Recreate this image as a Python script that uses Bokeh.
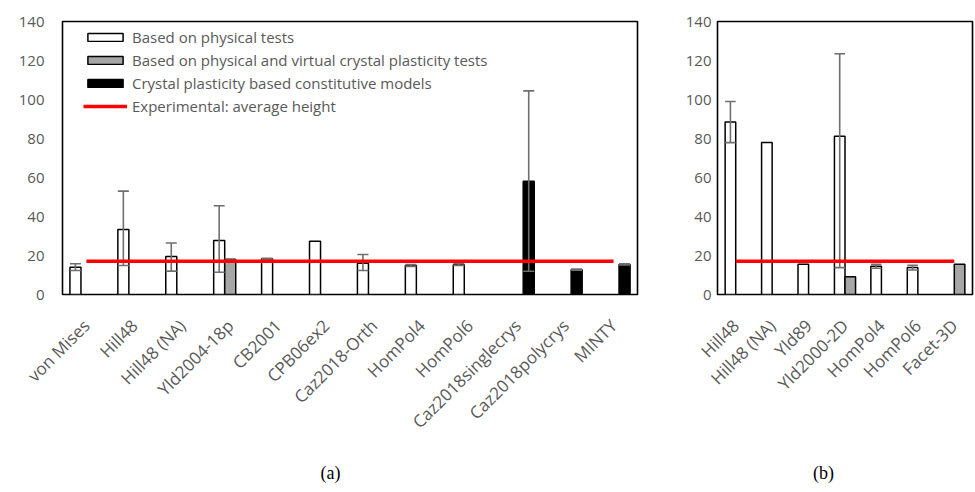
import math
from bokeh.plotting import figure
from bokeh.layouts import row, column
from bokeh.models import (ColumnDataSource, FactorRange, Range1d, FixedTicker,
                          Legend, LegendItem, Label)
from bokeh.transform import dodge
from bokeh.embed import file_html
from bokeh.resources import INLINE

# ---------------- data: panel (a) ----------------
cats_a = ["von Mises", "Hill48", "Hill48 (NA)", "Yld2004-18p", "CB2001", "CPB06ex2",
          "Caz2018-Orth", "HomPol4", "HomPol6", "Caz2018singlecrys",
          "Caz2018polycrys", "MINTY"]
phys_a = [14.0, 33.3, 19.5, 27.7, 18.3, 27.3, 16.0, 14.9, 15.3, None, None, None]
phys_a_lo = [12.3, 14.9, 12.0, 11.4, 18.0, None, 12.3, 14.4, 14.9, None, None, None]
phys_a_hi = [15.8, 53.0, 26.4, 45.5, 18.6, None, 20.5, 15.4, 15.8, None, None, None]
virt_a = [None, None, None, 17.9, None, None, None, None, None, None, None, None]
virt_a_lo = [None, None, None, 17.6, None, None, None, None, None, None, None, None]
virt_a_hi = [None, None, None, 18.2, None, None, None, None, None, None, None, None]
cp_a = [None, None, None, None, None, None, None, None, None, 58.1, 12.7, 15.4]
cp_a_lo = [None, None, None, None, None, None, None, None, None, 11.9, 12.4, 15.1]
cp_a_hi = [None, None, None, None, None, None, None, None, None, 104.4, 13.0, 15.7]
exp_a = [17.0] * len(cats_a)

# ---------------- data: panel (b) ----------------
cats_b = ["Hill48", "Hill48 (NA)", "Yld89", "Yld2000-2D", "HomPol4", "HomPol6", "Facet-3D"]
phys_b = [88.4, 77.9, 15.5, 81.1, 14.5, 13.8, None]
phys_b_lo = [77.9, None, None, 13.8, 13.5, 12.6, None]
phys_b_hi = [99.0, None, None, 123.5, 15.5, 15.0, None]
virt_b = [None, None, None, 9.1, None, None, 15.5]
exp_b = [17.0] * len(cats_b)

y_ticks = [0, 20, 40, 60, 80, 100, 120, 140]
legend_labels = ["Based on physical tests",
                 "Based on physical and virtual crystal plasticity tests",
                 "Crystal plasticity based constitutive models",
                 "Experimental: average height"]
captions = ["(a)", "(b)"]

GRAY_TXT = "#595959"
FONT = "Open Sans"
ERR_COL = "#6f6f6f"


def sub(cats, vals, lo=None, hi=None):
    d = {"cat": [], "val": [], "lo": [], "hi": []}
    for i, c in enumerate(cats):
        if vals[i] is None:
            continue
        d["cat"].append(c)
        d["val"].append(vals[i])
        d["lo"].append(lo[i] if lo is not None and lo[i] is not None else float("nan"))
        d["hi"].append(hi[i] if hi is not None and hi[i] is not None else float("nan"))
    return ColumnDataSource(d)


def make_fig(cats, width, height, mb_left, mb_right, mb_top, mb_bottom, ystand):
    p = figure(x_range=FactorRange(factors=cats), y_range=Range1d(0, 140),
               width=width, height=height, output_backend="svg",
               toolbar_location=None, min_border_left=mb_left,
               min_border_right=mb_right, min_border_top=mb_top,
               min_border_bottom=mb_bottom)
    p.xgrid.visible = False
    p.ygrid.visible = False
    p.outline_line_color = "black"
    p.outline_line_width = 1.6
    p.yaxis.ticker = FixedTicker(ticks=y_ticks)
    for ax in (p.xaxis, p.yaxis):
        ax.axis_line_color = None
        ax.major_tick_line_color = None
        ax.minor_tick_line_color = None
        ax.major_tick_out = 0
        ax.major_label_text_color = GRAY_TXT
        ax.major_label_text_font = FONT
    p.yaxis.major_label_text_font_size = "15px"
    p.xaxis.major_label_text_font_size = "17px"
    p.yaxis.major_label_standoff = ystand
    p.xaxis.major_label_orientation = math.pi / 4
    p.xaxis.major_label_standoff = 28
    return p


def bars(p, src, off, w, color):
    return p.vbar(x=dodge("cat", off, range=p.x_range), top="val", bottom=0, width=w,
                  source=src, fill_color=color, line_color="black", line_width=1.5)


def errs(p, src, off, w):
    p.segment(x0=dodge("cat", off, range=p.x_range), y0="lo",
              x1=dodge("cat", off, range=p.x_range), y1="hi",
              source=src, line_color=ERR_COL, line_width=1.6)
    for key in ("lo", "hi"):
        p.segment(x0=dodge("cat", off - w / 2, range=p.x_range), y0=key,
                  x1=dodge("cat", off + w / 2, range=p.x_range), y1=key,
                  source=src, line_color=ERR_COL, line_width=1.6)


def caption_fig(text, width, cx):
    c = figure(width=width, height=36, x_range=Range1d(0, 1), y_range=Range1d(0, 1),
               x_axis_type=None, y_axis_type=None, output_backend="svg",
               toolbar_location=None, min_border=0)
    c.outline_line_color = None
    c.add_layout(Label(x=cx, y=12, x_units="screen", y_units="screen", text=text,
                       text_align="center", text_baseline="middle",
                       text_font="Liberation Serif", text_font_size="18px",
                       text_color="black"))
    return c


# ---------------- panel (a) ----------------
pa = make_fig(cats_a, 680, 448, 62, 43, 21, 154, 18)
W_A = 0.23
s_pa = sub(cats_a, phys_a, phys_a_lo, phys_a_hi)
s_va = sub(cats_a, virt_a, virt_a_lo, virt_a_hi)
s_ca = sub(cats_a, cp_a, cp_a_lo, cp_a_hi)
r1 = bars(pa, s_pa, -W_A, W_A, "white")
r2 = bars(pa, s_va, 0.0, W_A, "#a6a6a6")
r3 = bars(pa, s_ca, W_A, W_A, "black")
errs(pa, s_pa, -W_A, W_A)
errs(pa, s_va, 0.0, W_A)
errs(pa, s_ca, W_A, W_A)
r4 = pa.line(x=cats_a, y=exp_a, line_color="#ff0000", line_width=3.5)

legend = Legend(items=[LegendItem(label=legend_labels[0], renderers=[r1]),
                       LegendItem(label=legend_labels[1], renderers=[r2]),
                       LegendItem(label=legend_labels[2], renderers=[r3]),
                       LegendItem(label=legend_labels[3], renderers=[r4])],
                location=(21, 178), padding=0, margin=0, spacing=3,
                glyph_width=44, glyph_height=10, label_height=15,
                label_standoff=5, background_fill_alpha=0,
                border_line_color=None, label_text_font=FONT,
                label_text_font_size="15px", label_text_color=GRAY_TXT)
pa.add_layout(legend, "center")

# ---------------- panel (b) ----------------
pb = make_fig(cats_b, 294, 448, 37, 2, 21, 150, 6)
W_B = 0.29
s_pb = sub(cats_b, phys_b, phys_b_lo, phys_b_hi)
s_vb = sub(cats_b, virt_b)
bars(pb, s_pb, -W_B / 2, W_B, "white")
bars(pb, s_vb, W_B / 2, W_B, "#a6a6a6")
errs(pb, s_pb, -W_B / 2, W_B)
pb.line(x=cats_b, y=exp_b, line_color="#ff0000", line_width=3.5)

ca = caption_fig(captions[0], 680, 330)
cb = caption_fig(captions[1], 294, 143)

layout = column(row(pa, pb), row(ca, cb))
open("out.html", "w").write(file_html(layout, INLINE))
